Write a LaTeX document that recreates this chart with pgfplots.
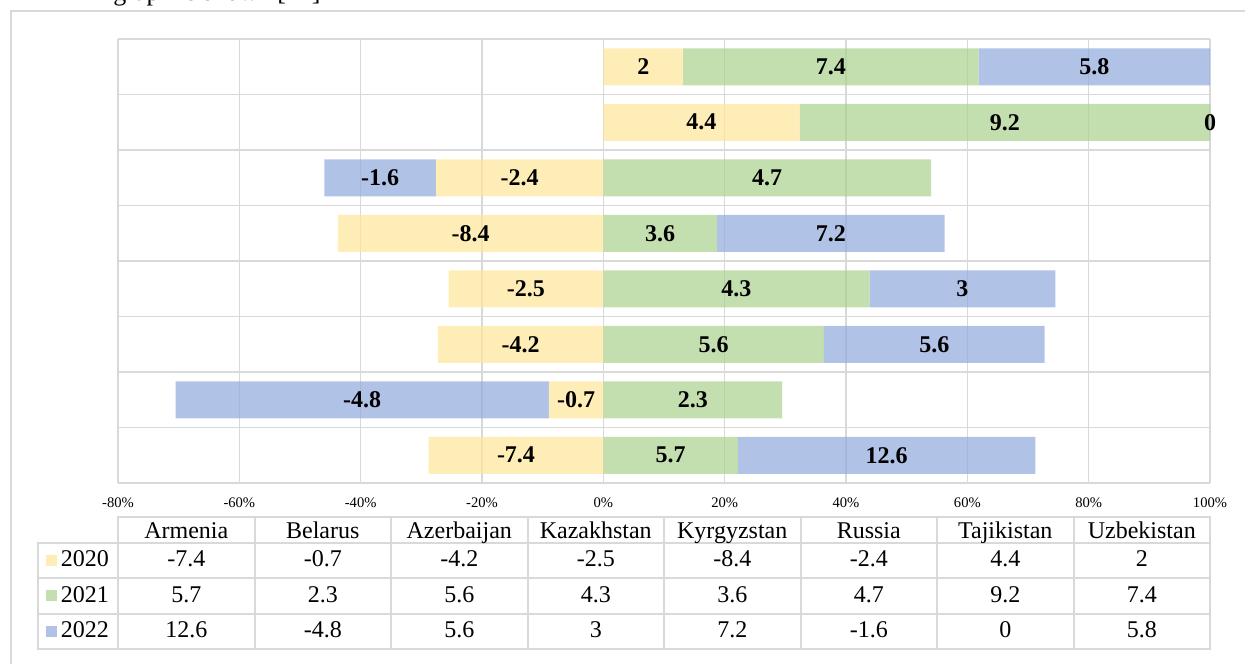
\documentclass[border=0pt]{standalone}
\usepackage{fontspec}
\setmainfont{Liberation Serif}
\usepackage{pgfplots}
\usepackage{pgfplotstable}
\pgfplotsset{compat=1.18}

\definecolor{c20}{HTML}{FFE699}
\definecolor{c21}{HTML}{A9D18E}
\definecolor{c22}{HTML}{8FAADC}
\definecolor{gridc}{HTML}{D9D9D9}

% growth by year, rows bottom to top
\pgfplotstableread{
idx a b c
0 -7.4 5.7 12.6
1 -0.7 2.3 -4.8
2 -4.2 5.6 5.6
3 -2.5 4.3 3
4 -8.4 3.6 7.2
5 -2.4 4.7 -1.6
6 4.4 9.2 0
7 2 7.4 5.8
}\growth

\newcommand{\va}{\thisrow{a}}
\newcommand{\vb}{\thisrow{b}}
\newcommand{\vc}{\thisrow{c}}
\newcommand{\tot}{(abs(\va)+abs(\vb)+abs(\vc))}
\newcommand{\tabfont}{\fontsize{12}{14}\selectfont}

\begin{document}
\begin{tikzpicture}
\useasboundingbox (0,0) rectangle (622.5pt,-332pt);

\begin{axis}[
  at={(59pt,-241.5pt)}, anchor=south west,
  scale only axis, width=546pt, height=222pt,
  xmin=-80, xmax=100, ymin=-0.5, ymax=7.5,
  xbar stacked, bar width=18.5pt,
  xtick={-80,-60,...,100},
  xticklabels={-80\%,-60\%,-40\%,-20\%,0\%,20\%,40\%,60\%,80\%,100\%},
  ytick={-0.5,0.5,...,7.5}, yticklabels={},
  major tick length=0pt,
  xmajorgrids, ymajorgrids,
  grid style={gridc, line width=0.75pt},
  axis line style={draw=none},
  tick label style={font=\fontsize{7.3}{8}\selectfont},
  xticklabel style={anchor=base, yshift=-12pt},
  nodes near coords, point meta=explicit symbolic, nodes near coords align={center},
  every node near coord/.style={font=\bfseries\fontsize{12}{13}\selectfont,
    text=black, text opacity=1},
  clip=false,
]
% share of each year in the row, negative ones stack to the left
\addplot[fill=c20, fill opacity=0.7, draw=none] table[y=idx, meta=a, x expr={\va*100/\tot}] {\growth};
\addplot[fill=c21, fill opacity=0.7, draw=none] table[y=idx, meta=b, x expr={\vb*100/\tot}] {\growth};
% a zero share gets a hair of width so that its label is kept, as Excel does
\addplot[fill=c22, fill opacity=0.7, draw=none] table[y=idx, meta=c, x expr={\vc*100/\tot+(\vc==0)*0.0001}] {\growth};
\end{axis}

\begin{scope}[x=0.5pt, y=-0.5pt]
  % frame and cut caption line of the page
  \draw[gridc, line width=1pt] (10.7,664) -- (10.7,10.7) -- (1245,10.7);
  \node[anchor=base west, inner sep=0, font=\fontsize{13}{14}\selectfont] at (113,0) {graph is shown [14]};

  % data table
  \draw[gridc, line width=1pt] (118,516.7) rectangle (1210,649);
  \draw[gridc, line width=1pt] (37.7,542.7) rectangle (118,649);
  \foreach \yy in {542.7,578,614} \draw[gridc, line width=1pt] (37.7,\yy) -- (1210,\yy);
  \foreach \i in {1,...,7} \draw[gridc, line width=1pt] ({118+136.5*\i},516.7) -- ({118+136.5*\i},649);

  \foreach \n [count=\i from 0] in {Armenia,Belarus,Azerbaijan,Kazakhstan,Kyrgyzstan,Russia,Tajikistan,Uzbekistan}
    \node[anchor=base, inner sep=0, font=\tabfont] at ({118+136.5*(\i+0.5)},538.5) {\n};

  \foreach \i in {0,...,7} {
    \foreach \col/\yy in {a/566.5, b/602, c/637.5} {
      \pgfplotstablegetelem{\i}{\col}\of\growth
      \node[anchor=base, inner sep=0, font=\tabfont] at ({118+136.5*(\i+0.5)},\yy) {\pgfplotsretval};
    }
  }

  \foreach \yr/\cc/\yy in {2020/c20/566.5, 2021/c21/602, 2022/c22/637.5} {
    \fill[\cc, fill opacity=0.7] (46,\yy-12) rectangle (57,\yy-1);
    \node[anchor=base west, inner sep=0, font=\tabfont] at (60.5,\yy) {\yr};
  }
\end{scope}
\end{tikzpicture}
\end{document}
